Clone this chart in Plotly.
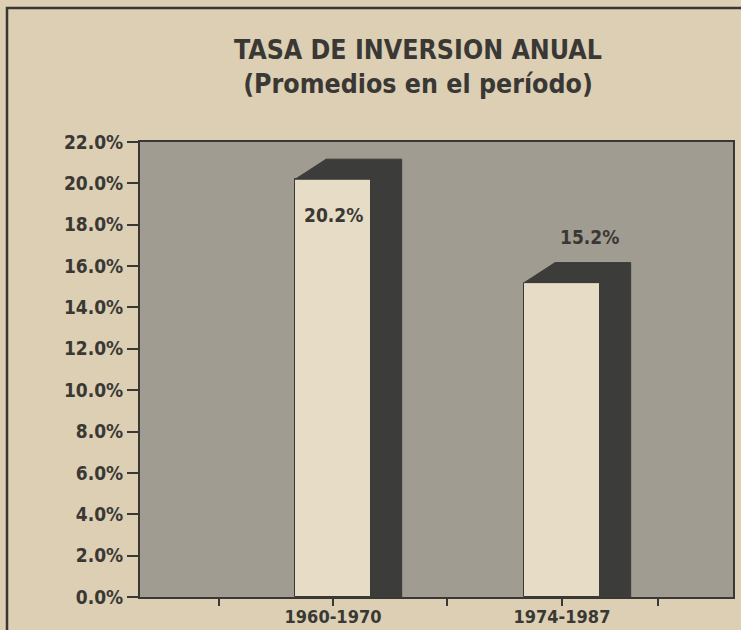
import plotly.graph_objects as go

categories = ["1960-1970", "1974-1987"]
values = [20.2, 15.2]
value_labels = ["20.2%", "15.2%"]
y_ticks = [0, 2, 4, 6, 8, 10, 12, 14, 16, 18, 20, 22]
x_minor_ticks = [-0.5, 0, 0.5, 1, 1.42]

FONT = "Liberation Sans Narrow, DejaVu Sans Condensed, Arial Narrow, sans-serif"
PAPER = "#dccfb3"
PLOT_BG = "#a19c91"
FRONT = "#e7ddc7"
SIDE = "#3c3c3a"
INK = "#3a3835"

bar_w = 0.33
dx = 0.135   # depth offset in x units
dy = 0.97    # depth offset in y units

fig = go.Figure()

# dark depth (side + top) of each 3D bar, built from the data values
for i, v in enumerate(values):
    xl, xr = i - bar_w / 2, i + bar_w / 2
    xs = [xl, xl + dx, xr + dx, xr + dx, xr, xr, xl]
    ys = [v, v + dy, v + dy, 0, 0, v, v]
    fig.add_trace(go.Scatter(x=xs, y=ys, mode="lines", fill="toself",
                             fillcolor=SIDE, line=dict(color=SIDE, width=1),
                             hoverinfo="skip", showlegend=False))

# front faces
fig.add_trace(go.Bar(x=list(range(len(categories))), y=values, width=bar_w,
                     marker=dict(color=FRONT, line=dict(color=INK, width=1)),
                     showlegend=False))

# value labels
fig.add_annotation(x=0, y=values[0], text=value_labels[0], showarrow=False,
                   yshift=-36, font=dict(family=FONT, size=19, color=INK, weight="bold"))
fig.add_annotation(x=1 + 0.12, y=values[1], text=value_labels[1], showarrow=False,
                   yshift=46, font=dict(family=FONT, size=19, color=INK, weight="bold"))

# outer frame (decorative newspaper box)
fig.add_shape(type="rect", xref="paper", yref="paper",
              x0=-133 / 593, x1=1.05, y0=-0.2, y1=(630 - 8 - 33) / 455,
              line=dict(color=INK, width=2.5), fillcolor="rgba(0,0,0,0)", layer="below")

fig.update_layout(
    width=741, height=630,
    margin=dict(l=140, r=8, t=142, b=33, autoexpand=False),
    paper_bgcolor=PAPER, plot_bgcolor=PLOT_BG,
    title=dict(text="<b>TASA DE INVERSION ANUAL<br>(Promedios en el período)</b>",
               x=418 / 741, xanchor="center", xref="container",
               y=1 - 59 / 630, yanchor="top", yref="container",
               font=dict(family=FONT, size=26.5, color=INK)),
    bargap=0,
)

fig.update_xaxes(range=[-0.843, 1.747], automargin=False,
                 tickvals=[0, 1], ticktext=categories,
                 ticks="outside", ticklen=2, tickcolor=INK, tickwidth=1.5,
                 minor=dict(tickvals=x_minor_ticks, ticks="outside", ticklen=7,
                            tickcolor=INK, tickwidth=1.5, showgrid=False),
                 showline=True, linecolor=INK, linewidth=2, mirror=True,
                 showgrid=False, zeroline=False,
                 tickfont=dict(family=FONT, size=18, color=INK, weight="bold"))
fig.update_yaxes(range=[0, 22], tickvals=y_ticks, automargin=False,
                 ticktext=[f"{t:.1f}%" for t in y_ticks],
                 ticks="outside", ticklen=11, tickcolor=INK, tickwidth=1.5,
                 showline=True, linecolor=INK, linewidth=2, mirror=True,
                 showgrid=False, zeroline=False,
                 tickfont=dict(family=FONT, size=19, color=INK, weight="bold"))

fig.write_html("out.html", config={"displayModeBar": False},
               post_script="document.body.style.margin='0';")
